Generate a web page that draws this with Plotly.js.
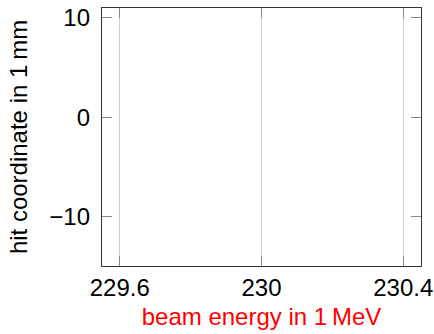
<!DOCTYPE html>
<html><head><meta charset="utf-8">
<script src="https://cdn.plot.ly/plotly-3.0.1.min.js"></script>
<style>html,body{margin:0;padding:0;background:#fff}</style>
</head><body>
<div id="plot" style="width:434px;height:334px"></div>
<script>
const xTickVals = [229.6, 230, 230.4];
const xTickText = ["229.6", "230", "230.4"];
const yTickVals = [-10, 0, 10];
const yTickText = ["\u221210", "0", "10"];
const xRange = [229.55, 230.45];
const yRange = [-15, 11];
const xData = [];
const yData = [];

const fontFam = "Liberation Sans, Arial, sans-serif";
Plotly.newPlot("plot", [{x: xData, y: yData, type: "scatter", mode: "markers", showlegend: false}], {
  width: 434, height: 334,
  margin: {l: 102, r: 13, t: 8, b: 68},
  paper_bgcolor: "#fff", plot_bgcolor: "#fff",
  font: {family: fontFam, size: 24, color: "#000"},
  xaxis: {
    range: xRange, tickvals: xTickVals, ticktext: xTickText,
    showgrid: true, gridcolor: "#cfcfcf", gridwidth: 1,
    ticks: "inside", ticklen: 10, tickcolor: "#8a8a8a", tickwidth: 1,
    showline: true, linecolor: "#333", linewidth: 1.2, mirror: "ticks",
    zeroline: false, ticklabelstandoff: 0,
    tickfont: {family: fontFam, size: 24},
    title: {text: "beam energy in 1\u2009MeV", font: {family: fontFam, size: 24, color: "#ff0000"}, standoff: 8}
  },
  yaxis: {
    range: yRange, tickvals: yTickVals, ticktext: yTickText,
    showgrid: false,
    ticks: "inside", ticklen: 10, tickcolor: "#8a8a8a", tickwidth: 1,
    showline: true, linecolor: "#333", linewidth: 1.2, mirror: "ticks",
    zeroline: false, ticklabelstandoff: 6,
    tickfont: {family: fontFam, size: 24},
    title: {text: "hit coordinate in 1\u2009mm", font: {family: fontFam, size: 24, color: "#000"}, standoff: 14}
  }
}, {staticPlot: true, displayModeBar: false});
</script>
</body></html>
